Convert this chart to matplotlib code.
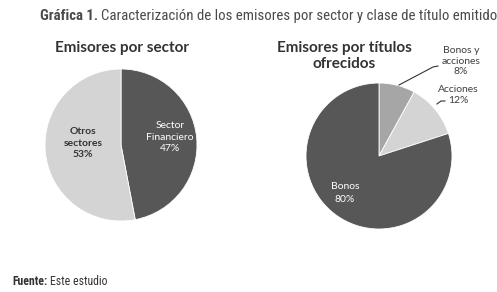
import matplotlib
matplotlib.use("Agg")
import matplotlib.pyplot as plt
from matplotlib import font_manager

# data
sector_labels = ["Sector\nFinanciero\n47%", "Otros\nsectores\n53%"]
sector_values = [47, 53]
titulo_labels = ["Bonos y\nacciones\n8%", "Acciones\n12%", "Bonos\n80%"]
titulo_values = [8, 12, 80]

W, H = 497, 292
DARK = "#575757"
LIGHT = "#d4d4d4"
MID = "#a6a6a6"
TXT = "#404040"
names = {f.name for f in font_manager.fontManager.ttflist}
NARROW = [n for n in ["Roboto Condensed", "Liberation Sans Narrow", "Roboto"] if n in names] + ["DejaVu Sans"]
BODY = ["Lato", "DejaVu Sans"]

fig = plt.figure(figsize=(W / 100, H / 100), dpi=100)
fig.patch.set_facecolor("white")
renderer = fig.canvas.get_renderer()


def px(x, y):
    return x / W, 1 - y / H


def pie_axes(cx, cy, r, values, colors):
    ax = fig.add_axes([(cx - r) / W, 1 - (cy + r) / H, 2 * r / W, 2 * r / H])
    ax.pie(values, colors=colors, startangle=90, counterclock=False, radius=1,
           wedgeprops=dict(edgecolor="white", linewidth=0.6))
    ax.set_xlim(-1, 1)
    ax.set_ylim(-1, 1)
    ax.set_aspect("equal")
    ax.axis("off")
    return ax


ax1 = pie_axes(121, 145, 76, sector_values, [DARK, LIGHT])
ax2 = pie_axes(379, 156, 73, titulo_values, [MID, LIGHT, DARK])

# labels inside pies
fig.text(*px(170, 137), sector_labels[0], color="white", ha="center", va="center",
         fontsize=7.5, family=BODY, linespacing=1.3)
fig.text(*px(83, 143), sector_labels[1], color="#333333", ha="center", va="center",
         fontsize=7.5, family=BODY, fontweight="bold", linespacing=1.3)
fig.text(*px(345, 193), titulo_labels[2], color="white", ha="center", va="center",
         fontsize=7.5, family=BODY, linespacing=1.5)

# outside labels with leader lines
fig.text(*px(461, 61), titulo_labels[0], color=TXT, ha="center", va="center",
         fontsize=7.5, family=BODY, linespacing=1.25)
fig.text(*px(458, 95), titulo_labels[1], color=TXT, ha="center", va="center",
         fontsize=7.5, family=BODY, linespacing=1.35)
fig.add_artist(plt.Line2D([399 / W, 433 / W, 438 / W],
                          [1 - 85 / H, 1 - 67 / H, 1 - 66 / H],
                          color="#333333", lw=0.8, transform=fig.transFigure))
fig.add_artist(plt.Line2D([437 / W, 441 / W, 445 / W],
                          [1 - 104 / H, 1 - 101 / H, 1 - 101 / H],
                          color="#333333", lw=0.8, transform=fig.transFigure))

# subtitles
fig.text(*px(122, 48), "Emisores por sector", ha="center", va="center",
         fontsize=11, fontweight="bold", family=BODY, color="#333333")
fig.text(*px(344, 56), "Emisores por títulos\nofrecidos", ha="center", va="center",
         fontsize=11, fontweight="bold", family=BODY, color="#333333", linespacing=1.1)

# title, scaled so its width matches the reference
size = 10
t1 = fig.text(*px(40, 20), "Gráfica 1.", ha="left", va="baseline", fontsize=size,
              fontweight="bold", family=NARROW, color="#4a4a4a")
t1b = fig.text(0, 1 - 20 / H,
               "Caracterización de los emisores por sector y clase de título emitido",
               ha="left", va="baseline", fontsize=size, family=NARROW, color="#4a4a4a")
w = t1.get_window_extent(renderer).width + 3 + t1b.get_window_extent(renderer).width
size = size * 452 / w
t1.set_fontsize(size)
t1b.set_fontsize(size)
bb = t1.get_window_extent(renderer)
t1b.set_x((bb.x1 + 3) / W)

# source
t2 = fig.text(*px(12, 285), "Fuente:", ha="left", va="baseline", fontsize=8.5,
              fontweight="bold", family=NARROW, color="#333333")
bb2 = t2.get_window_extent(renderer)
fig.text((bb2.x1 + 3) / W, 1 - 285 / H, "Este estudio", ha="left", va="baseline",
         fontsize=8.5, family=NARROW, color="#333333")

fig.savefig("out.png", dpi=100, facecolor="white")
